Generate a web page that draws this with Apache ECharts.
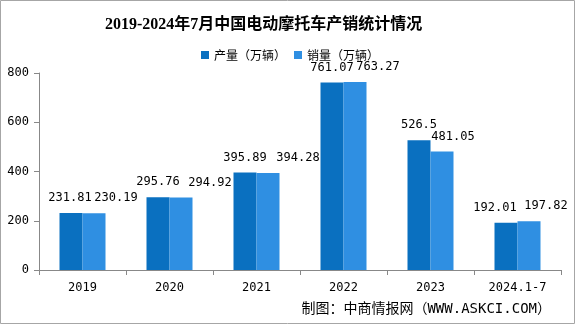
<!DOCTYPE html>
<html>
<head>
<meta charset="utf-8">
<script src="https://cdn.jsdelivr.net/npm/echarts@6/dist/echarts.min.js"></script>
<style>html,body{margin:0;padding:0;background:#fff}#c{width:581px;height:327px}</style>
</head>
<body>
<div id="c"></div>
<script>
const categories = ['2019', '2020', '2021', '2022', '2023', '2024.1-7'];
const production = [231.81, 295.76, 395.89, 761.07, 526.5, 192.01];
const sales = [230.19, 294.92, 394.28, 763.27, 481.05, 197.82];
const yTicks = [0, 200, 400, 600, 800];
const seriesNames = ['产量（万辆）', '销量（万辆）'];
// label horizontal shifts (style only)
const prodLabelDx = [-1, 0, 0, 0, 0, -11];
const salesLabelDx = [22, 29, 30, 23, 11, 17];

const mono = "'DejaVu Sans Mono', 'Noto Sans CJK SC', monospace";
const chart = echarts.init(document.getElementById('c'));
function build(vals, dx) {
  return vals.map((v, i) => ({ value: v, label: { offset: [dx[i], 0] } }));
}
chart.setOption({
  animation: false,
  backgroundColor: '#ffffff',
  title: {
    text: '2019-2024年7月中国电动摩托车产销统计情况',
    left: 100, top: 12,
    textStyle: { fontSize: 16, fontWeight: 'bold', color: '#000', fontFamily: "'Liberation Serif', 'Noto Sans CJK SC', serif" }
  },
  legend: {
    data: seriesNames,
    left: 196, top: 44,
    itemWidth: 8, itemHeight: 8, itemGap: 8,
    icon: 'rect',
    textStyle: { fontSize: 12, color: '#000', fontFamily: "'Noto Sans CJK SC', sans-serif" }
  },
  grid: { left: 39, right: 20, top: 73, bottom: 57, containLabel: false },
  xAxis: {
    type: 'category',
    data: categories,
    axisLine: { lineStyle: { color: '#888', width: 1 } },
    axisTick: { show: true, length: 5, lineStyle: { color: '#888' } },
    axisLabel: { margin: 12, fontSize: 12, color: '#000', fontFamily: mono }
  },
  yAxis: {
    type: 'value',
    min: yTicks[0], max: yTicks[yTicks.length - 1], interval: 200,
    splitLine: { show: false },
    axisLine: { show: true, lineStyle: { color: '#888', width: 1 } },
    axisTick: { show: true, length: 5, lineStyle: { color: '#888' } },
    axisLabel: { margin: 10, fontSize: 12, color: '#000', fontFamily: mono }
  },
  series: [
    {
      name: seriesNames[0], type: 'bar', barWidth: 23, barGap: '0%',
      itemStyle: { color: '#0A70C0' },
      label: { show: true, position: 'top', distance: 9, fontSize: 12, color: '#000', fontFamily: mono },
      data: build(production, prodLabelDx)
    },
    {
      name: seriesNames[1], type: 'bar', barWidth: 23, barGap: '0%',
      itemStyle: { color: '#2F8FE2' },
      label: { show: true, position: 'top', distance: 9, fontSize: 12, color: '#000', fontFamily: mono },
      data: build(sales, salesLabelDx)
    }
  ],
  graphic: [
    { type: 'rect', shape: { x: 0.5, y: 0.5, width: 574, height: 323 }, style: { fill: 'none', stroke: '#A6A6A6', lineWidth: 1 }, z: 100 },
    { type: 'text', right: 30, top: 302, style: { text: '制图：中商情报网（WWW.ASKCI.COM）', fontSize: 14, fill: '#000', fontFamily: "'DejaVu Sans Mono', 'Noto Sans CJK SC', monospace" } }
  ]
});
</script>
</body>
</html>
